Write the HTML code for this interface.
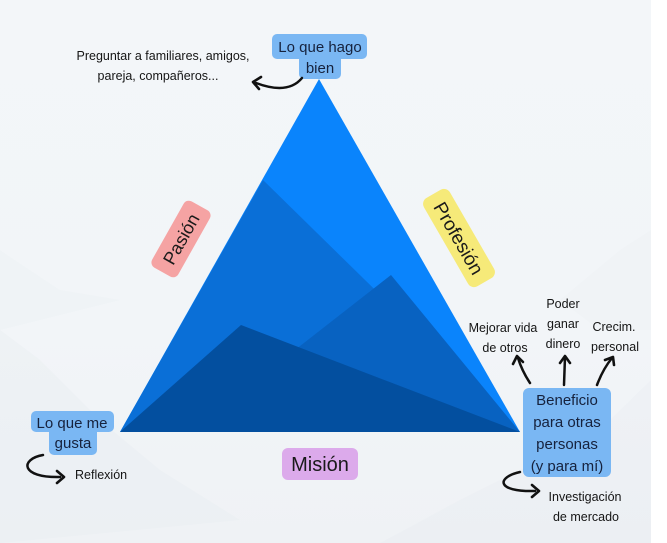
<!DOCTYPE html>
<html>
<head>
<meta charset="utf-8">
<style>
html,body{margin:0;padding:0;background:#fff;}
svg{display:block;}
text{font-family:"Liberation Sans",sans-serif;}
</style>
</head>
<body>
<svg width="667" height="543" viewBox="0 0 667 543" xmlns="http://www.w3.org/2000/svg">
  <defs>
    <linearGradient id="bg" x1="0" y1="0" x2="0" y2="1">
      <stop offset="0" stop-color="#f3f6f9"/>
      <stop offset="0.6" stop-color="#f2f5f8"/>
      <stop offset="1" stop-color="#eff2f5"/>
    </linearGradient>
  </defs>
  <rect x="0" y="0" width="651" height="543" fill="url(#bg)"/>
  <rect x="651" y="0" width="16" height="543" fill="#ffffff"/>
  <!-- faint background mountains -->
  <polygon points="0,250 60,290 120,300 0,330" fill="#e9edf1" opacity="0.3"/>
  <polygon points="0,330 40,360 100,420 160,470 240,520 0,543" fill="#e6eaee" opacity="0.3"/>
  <polygon points="380,543 460,500 520,470 600,430 651,380 651,543" fill="#e8ecf0" opacity="0.35"/>
  <polygon points="560,300 620,250 651,230 651,330 600,330" fill="#eaeef2" opacity="0.3"/>

  <!-- triangle layers -->
  <polygon points="319,79 120,432 520,432" fill="#0a84fc"/>
  <polygon points="263,180 120,432 520,432" fill="#0a6fd7"/>
  <polygon points="391,275 190,432 520,432" fill="#0862c1"/>
  <polygon points="241,325 120,432 520,432" fill="#034f9f"/>

  <!-- Lo que hago bien -->
  <rect x="272" y="34" width="95" height="25" rx="5" fill="#7ab7f3"/>
  <rect x="299" y="50" width="42" height="29" rx="5" fill="#7ab7f3"/>
  <text x="320" y="52" font-size="15" fill="#16223d" text-anchor="middle">Lo que hago</text>
  <text x="320" y="73" font-size="15" fill="#16223d" text-anchor="middle">bien</text>

  <text x="163" y="60" font-size="12.5" fill="#151515" text-anchor="middle">Preguntar a familiares, amigos,</text>
  <text x="158" y="80" font-size="12.5" fill="#151515" text-anchor="middle">pareja, compañeros...</text>
  <path d="M302,78 Q288,95 256,83" fill="none" stroke="#111" stroke-width="2.5" stroke-linecap="round"/>
  <polyline points="261,77 253,82 259,89" fill="none" stroke="#111" stroke-width="2.6" stroke-linecap="round" stroke-linejoin="round"/>

  <!-- Pasion -->
  <g transform="translate(181,239) rotate(-60.6)">
    <rect x="-38" y="-15" width="76" height="30" rx="6" fill="#f5a3a3"/>
    <text x="0" y="6.5" font-size="18" fill="#1a1a1a" text-anchor="middle">Pasión</text>
  </g>
  <!-- Profesion -->
  <g transform="translate(459,238) rotate(60)">
    <rect x="-51" y="-15" width="102" height="30" rx="7" fill="#f6ea79"/>
    <text x="0" y="7" font-size="19" fill="#1a1a1a" text-anchor="middle">Profesión</text>
  </g>
  <!-- Mision -->
  <rect x="282" y="448" width="76" height="32" rx="6" fill="#dcaaeb"/>
  <text x="320" y="471" font-size="20" fill="#1a1a1a" text-anchor="middle">Misión</text>

  <!-- Lo que me gusta -->
  <rect x="31" y="411" width="83" height="21" rx="5" fill="#7ab7f3"/>
  <rect x="49" y="426" width="48" height="29" rx="5" fill="#7ab7f3"/>
  <text x="72" y="428" font-size="15" fill="#16223d" text-anchor="middle">Lo que me</text>
  <text x="73" y="448" font-size="15" fill="#16223d" text-anchor="middle">gusta</text>
  <path d="M43,455 C20,459 20,478 60,477" fill="none" stroke="#111" stroke-width="2.5" stroke-linecap="round"/>
  <polyline points="57,471 64,477 57,483" fill="none" stroke="#111" stroke-width="2.6" stroke-linecap="round" stroke-linejoin="round"/>
  <text x="75" y="479" font-size="12.5" fill="#151515">Reflexión</text>

  <!-- Beneficio -->
  <rect x="523" y="388" width="88" height="89" rx="6" fill="#7ab7f3"/>
  <text x="567" y="405" font-size="15" fill="#16223d" text-anchor="middle">Beneficio</text>
  <text x="567" y="427" font-size="15" fill="#16223d" text-anchor="middle">para otras</text>
  <text x="567" y="449" font-size="15" fill="#16223d" text-anchor="middle">personas</text>
  <text x="567" y="471" font-size="15" fill="#16223d" text-anchor="middle">(y  para mí)</text>

  <text x="563" y="308" font-size="12.5" fill="#151515" text-anchor="middle">Poder</text>
  <text x="563" y="328" font-size="12.5" fill="#151515" text-anchor="middle">ganar</text>
  <text x="563" y="348" font-size="12.5" fill="#151515" text-anchor="middle">dinero</text>
  <text x="503" y="332" font-size="12.5" fill="#151515" text-anchor="middle">Mejorar vida</text>
  <text x="505" y="352" font-size="12.5" fill="#151515" text-anchor="middle">de otros</text>
  <text x="614" y="331" font-size="12.5" fill="#151515" text-anchor="middle">Crecim.</text>
  <text x="615" y="351" font-size="12.5" fill="#151515" text-anchor="middle">personal</text>

  <path d="M530,383 Q522,371 518,358" fill="none" stroke="#111" stroke-width="2.5" stroke-linecap="round"/>
  <polyline points="513,364 517,356 523,362" fill="none" stroke="#111" stroke-width="2.6" stroke-linecap="round" stroke-linejoin="round"/>
  <path d="M564,385 L565,357" fill="none" stroke="#111" stroke-width="2.5" stroke-linecap="round"/>
  <polyline points="560,363 565,356 570,363" fill="none" stroke="#111" stroke-width="2.6" stroke-linecap="round" stroke-linejoin="round"/>
  <path d="M597,385 Q603,369 612,358" fill="none" stroke="#111" stroke-width="2.5" stroke-linecap="round"/>
  <polyline points="605,360 613,357 614,365" fill="none" stroke="#111" stroke-width="2.6" stroke-linecap="round" stroke-linejoin="round"/>

  <path d="M520,472 C497,477 495,492 535,491" fill="none" stroke="#111" stroke-width="2.5" stroke-linecap="round"/>
  <polyline points="532,485 539,491 532,497" fill="none" stroke="#111" stroke-width="2.6" stroke-linecap="round" stroke-linejoin="round"/>
  <text x="585" y="501" font-size="12.5" fill="#151515" text-anchor="middle">Investigación</text>
  <text x="586" y="521" font-size="12.5" fill="#151515" text-anchor="middle">de mercado</text>
</svg>
</body>
</html>
